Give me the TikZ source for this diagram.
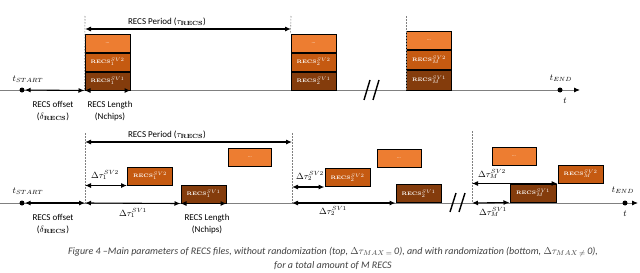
\documentclass[tikz,border=0pt]{standalone}
\usepackage{amsmath}
\usepackage[no-math]{fontspec}
\setmainfont{Carlito}
\usepackage{xcolor}
\usetikzlibrary{arrows.meta,positioning}
\definecolor{recsdark}{HTML}{843C0C}
\definecolor{recsmid}{HTML}{C55A11}
\definecolor{recslight}{HTML}{ED7D31}

\begin{document}
\begin{tikzpicture}[x=1pt,y=-1pt,>={Latex[length=6pt,width=5pt]},
lbl/.style={font=\fontsize{9}{11.5}\selectfont,align=center,inner sep=1pt},
recs/.style={draw,line width=1pt,minimum width=45pt,minimum height=18pt,inner sep=0pt,text=white,font=\fontsize{5}{6}\selectfont},
sva/.style={recs,fill=recsdark},
svb/.style={recs,fill=recsmid},
svc/.style={recs,fill=recslight},
dot/.style={circle,fill,inner sep=0pt,minimum size=5pt},
dim/.style={<->,line width=1.1pt},
guide/.style={gray,dash pattern=on 1.5pt off 1.5pt,line width=0.6pt},
axis/.style={-{Latex[length=6pt,width=5pt,color=black]},draw=gray,line width=0.9pt},
brk/.style={line width=1.4pt}]
\useasboundingbox (0,0) rectangle (640,273);

% top: without randomization
\coordinate (a0) at (0,90);
\coordinate (a1) at (580,90);
\draw[axis] (a0) -- (a1);
\node[dot] (ts1) at (22,90) {};
\node[dot] (te1) at (560,90) {};
\node[lbl] (tstart1) at (28,79) {$t_{START}$};
\node[lbl] (tend1) at (561,78) {$t_{END}$};
\node[lbl] (tt1) at (565,101) {$t$};

\node[sva] (t1a) at (107.5,81) {$\mathbf{RECS}_1^{SV1}$};
\node[svb,above=0pt of t1a] (t1b) {$\mathbf{RECS}_1^{SV2}$};
\node[svc,above=0pt of t1b] (t1c) {...};
\node[sva] (t2a) at (313.5,81) {$\mathbf{RECS}_2^{SV1}$};
\node[svb,above=0pt of t2a] (t2b) {$\mathbf{RECS}_2^{SV2}$};
\node[svc,above=0pt of t2b] (t2c) {...};
\node[sva,minimum height=20pt] (tMa) at (429,80) {$\mathbf{RECS}_M^{SV1}$};
\node[svb,minimum height=19pt,above=0pt of tMa] (tMb) {$\mathbf{RECS}_M^{SV2}$};
\node[svc,above=0pt of tMb] (tMc) {...};

\coordinate (g1) at (85,16);
\coordinate (g2) at (291,16);
\coordinate (g3) at (406,16);
\draw[guide] (g1) -- (t1a.south west);
\draw[guide] (g2) -- (t2c.north west);
\draw[guide] (g3) -- (tMa.south west);

\coordinate (p1) at (85,29);
\coordinate (p2) at (291,29);
\draw[dim] (p1) -- (p2);
\node[lbl] (per1) at (167,22) {RECS Period ($\tau_{\mathbf{RECS}}$)};
\draw[dim] (ts1) -- (t1a.south west);
\draw[dim] (t1a.south west) -- (t1a.south east);
\node[lbl] (off1) at (53,111) {RECS offset\\($\delta_{\mathbf{RECS}}$)};
\node[lbl] (len1) at (110,111) {RECS Length\\(Nchips)};
\draw[brk] (364,100) -- (370,80) (373,100) -- (379,80);

% bottom: with randomization
\coordinate (b0) at (0,203);
\coordinate (b9) at (638,203);
\draw[axis] (b0) -- (b9);
\node[dot] (ts2) at (22,203) {};
\node[dot] (te2) at (625,203) {};
\node[lbl] (tstart2) at (28,191) {$t_{START}$};
\node[lbl] (tend2) at (623,190) {$t_{END}$};
\node[lbl] (tt2) at (625,214) {$t$};

\node[sva] (b1a) at (203.5,194) {$\mathbf{RECS}_1^{SV1}$};
\node[svb] (b1b) at (150,176) {$\mathbf{RECS}_1^{SV2}$};
\node[svc,minimum width=43pt] (b1c) at (250,157) {...};
\node[sva] (b2a) at (418.5,193.5) {$\mathbf{RECS}_2^{SV1}$};
\node[svb] (b2b) at (347.5,177.5) {$\mathbf{RECS}_2^{SV2}$};
\node[svc,minimum width=44pt] (b2c) at (399,158) {...};
\node[sva,minimum width=46pt] (bMa) at (533,193) {$\mathbf{RECS}_M^{SV1}$};
\node[svb] (bMb) at (580.5,174) {$\mathbf{RECS}_M^{SV2}$};
\node[svc,minimum width=44pt] (bMc) at (514,156) {...};

\coordinate (h1) at (85,133);
\coordinate (h2) at (292,133);
\coordinate (h3) at (472,131);
\coordinate (d1) at (85,203);
\coordinate (d2) at (292,203);
\coordinate (d3) at (472,203);
\draw[guide] (h1) -- (d1);
\draw[guide] (h2) -- (d2);
\draw[guide] (h3) -- (d3);

\coordinate (q1) at (85,142);
\coordinate (q2) at (292,142);
\draw[dim] (q1) -- (q2);
\node[lbl] (per2) at (167,135) {RECS Period ($\tau_{\mathbf{RECS}}$)};
\draw[dim] (ts2) -- (d1);
\node[lbl] (off2) at (53,224) {RECS offset\\($\delta_{\mathbf{RECS}}$)};

\draw[dim] (d1 |- b1b.south) -- (b1b.south west);
\draw[dim] (d1) -- (b1a.south west);
\draw[dim] (b1a.south west) -- (b1a.south east);
\node[lbl] (dt1b) at (105,175) {$\Delta\tau_1^{SV2}$};
\node[lbl] (dt1a) at (133,213) {$\Delta\tau_1^{SV1}$};
\node[lbl] (len2) at (207,224) {RECS Length\\(Nchips)};

\draw[dim] (d2 |- b2b.south) -- (b2b.south west);
\draw[dim] (d2) -- (b2a.south west);
\node[lbl] (dt2b) at (310,176) {$\Delta\tau_2^{SV2}$};
\node[lbl] (dt2a) at (333,211) {$\Delta\tau_2^{SV1}$};

\draw[dim] (d3 |- bMb.south) -- (bMb.south west);
\draw[dim] (d3) -- (bMa.south west);
\node[lbl] (dtMb) at (492,174) {$\Delta\tau_M^{SV2}$};
\node[lbl] (dtMa) at (493,212) {$\Delta\tau_M^{SV1}$};
\draw[brk] (450,212) -- (456,193) (459,212) -- (465,193);

\node[font=\fontsize{10}{14}\selectfont\itshape,align=center,text=black!75] (cap) at (333,258)
  {Figure 4 --Main parameters of RECS files, without randomization (top, $\Delta\tau_{MAX\,=}$\,0), and with randomization (bottom, $\Delta\tau_{MAX\,\neq}$\,0),\\for a total amount of M RECS};
\end{tikzpicture}
\end{document}
